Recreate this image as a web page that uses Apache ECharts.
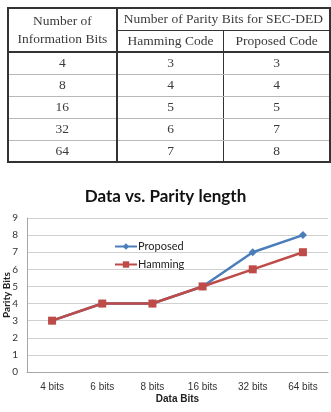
<!DOCTYPE html>
<html>
<head>
<meta charset="utf-8">
<script src="https://cdn.jsdelivr.net/npm/echarts@6/dist/echarts.min.js"></script>
<style>
  html, body { margin: 0; padding: 0; background: #fff; }
  #wrap { position: relative; width: 331px; height: 412px; overflow: hidden; }
  #chart { position: absolute; left: 0; top: 0; width: 331px; height: 412px; }
  #tbl { position: absolute; left: 7px; top: 7px; border-collapse: collapse;
         font-family: "Liberation Serif", "DejaVu Serif", serif; font-size: 13.5px; color: #3a3a3a; }
  #tbl td { text-align: center; padding: 0; border: 1px solid #b8b8b8; }
  #tbl { border: 2px solid #333; }
  #tbl td.dk { border-color: #333; }
</style>
</head>
<body>
<div id="wrap">
  <div id="chart"></div>
  <table id="tbl"></table>
</div>
<script>
// ---- table data ----
var tableInfoBits = [4, 8, 16, 32, 64];
var tableHamming = [3, 4, 5, 6, 7];
var tableProposed = [3, 4, 5, 7, 8];
var tableHeaderLeft = ["Number of", "Information Bits"];
var tableHeaderTop = "Number of Parity Bits for SEC-DED";
var tableHeaderSub = ["Hamming Code", "Proposed Code"];

// ---- chart data ----
var categories = ["4 bits", "6 bits", "8 bits", "16 bits", "32 bits", "64 bits"];
var proposed = [3, 4, 4, 5, 7, 8];
var hamming = [3, 4, 4, 5, 6, 7];
var yTicks = [0, 1, 2, 3, 4, 5, 6, 7, 8, 9];

// build table
(function () {
  var t = document.getElementById('tbl');
  var colW = [107, 106, 105];
  var html = '';
  html += '<tr style="height:22px">' +
    '<td rowspan="2" class="dk" style="width:' + colW[0] + 'px;line-height:18px;border-bottom:2px solid #333;border-right:2px solid #333">' +
    tableHeaderLeft[0] + '<br>' + tableHeaderLeft[1] + '</td>' +
    '<td colspan="2" class="dk" style="border-bottom:1.5px solid #333">' + tableHeaderTop + '</td></tr>';
  html += '<tr style="height:22px">' +
    '<td class="dk" style="width:' + colW[1] + 'px;border-bottom:2px solid #333;border-right:1.5px solid #333">' + tableHeaderSub[0] + '</td>' +
    '<td class="dk" style="width:' + colW[2] + 'px;border-bottom:2px solid #333">' + tableHeaderSub[1] + '</td></tr>';
  for (var i = 0; i < tableInfoBits.length; i++) {
    html += '<tr style="height:22px">' +
      '<td style="border-right:2px solid #333">' + tableInfoBits[i] + '</td>' +
      '<td style="border-right:1.5px solid #333">' + tableHamming[i] + '</td>' +
      '<td>' + tableProposed[i] + '</td></tr>';
  }
  t.innerHTML = html;
})();

var chart = echarts.init(document.getElementById('chart'), null, { renderer: 'canvas' });
var sans = 'Lato, "Open Sans", sans-serif';
chart.setOption({
  animation: false,
  backgroundColor: 'transparent',
  title: {
    text: 'Data vs. Parity length',
    left: 'center',
    top: 183,
    textStyle: { fontFamily: sans, fontWeight: 'bold', fontSize: 17, color: '#111' }
  },
  legend: {
    orient: 'vertical',
    left: 109,
    top: 236,
    itemWidth: 22,
    itemHeight: 8,
    itemGap: 7,
    textStyle: { fontFamily: sans, fontSize: 11, color: '#222', padding: [0, 0, 0, -4] },
    data: ['Proposed', 'Hamming']
  },
  grid: { left: 27, right: 3, top: 218, bottom: 40, containLabel: false, outerBoundsMode: 'none' },
  xAxis: {
    type: 'category',
    data: categories,
    boundaryGap: true,
    name: 'Data Bits',
    nameLocation: 'middle',
    nameGap: 22,
    nameMoveOverlap: false,
    nameTextStyle: { fontFamily: '"Liberation Sans", Arial, sans-serif', fontWeight: 'bold', fontSize: 10, color: '#222' },
    axisLine: { lineStyle: { color: '#a6a6a6', width: 1 } },
    axisTick: { show: false },
    axisLabel: { fontFamily: '"Liberation Sans", Arial, sans-serif', fontSize: 10, color: '#333', margin: 10 }
  },
  yAxis: {
    type: 'value',
    min: yTicks[0],
    max: yTicks[yTicks.length - 1],
    interval: 1,
    name: 'Parity Bits',
    nameLocation: 'middle',
    nameGap: 15,
    nameMoveOverlap: false,
    nameTextStyle: { fontFamily: sans, fontWeight: 'bold', fontSize: 10, color: '#222' },
    axisLine: { show: true, lineStyle: { color: '#a6a6a6', width: 1 } },
    axisTick: { show: false },
    axisLabel: { fontFamily: sans, fontSize: 10, color: '#333', margin: 9 },
    splitLine: { lineStyle: { color: '#d0d0d0', width: 1 } }
  },
  series: [
    {
      name: 'Proposed',
      type: 'line',
      data: proposed,
      symbol: 'diamond',
      symbolSize: 8,
      color: '#4a7ebb',
      lineStyle: { width: 2.5, color: '#4a7ebb' },
      itemStyle: { color: '#4a7ebb' }
    },
    {
      name: 'Hamming',
      type: 'line',
      data: hamming,
      symbol: 'rect',
      symbolSize: 8,
      color: '#be4b48',
      lineStyle: { width: 2.5, color: '#be4b48' },
      itemStyle: { color: '#be4b48' }
    }
  ]
});
</script>
</body>
</html>
